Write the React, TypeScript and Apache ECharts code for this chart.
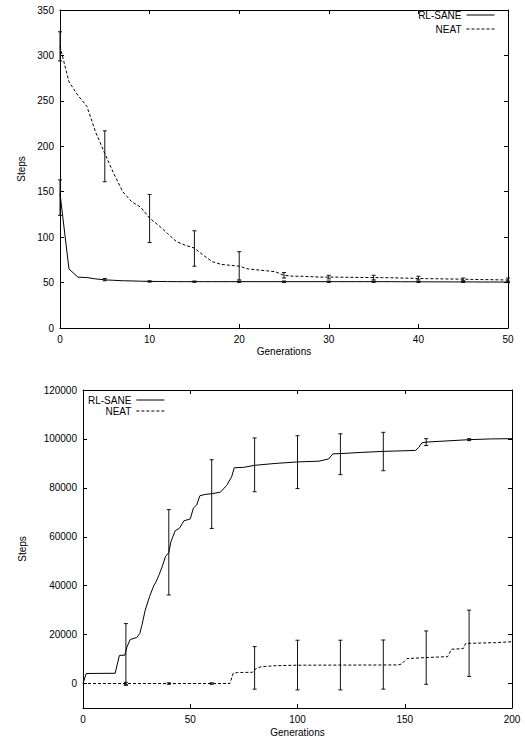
import React, { useEffect, useRef } from "react";
import * as echarts from "echarts";

// ---------- Top chart data ----------
const topGenerations = [
  0, 1, 2, 3, 4, 5, 6, 7, 8, 9, 10, 11, 12, 13, 14, 15, 16, 17, 18, 19, 20, 21, 22, 23, 24, 25,
  26, 27, 28, 29, 30, 31, 32, 33, 34, 35, 36, 37, 38, 39, 40, 41, 42, 43, 44, 45, 46, 47, 48, 49, 50,
];
const topRlSane = [
  148, 65, 56, 55.5, 54, 53, 52.5, 52, 51.8, 51.5, 51.3, 51.2, 51.1, 51, 51, 51, 51, 51, 51, 51, 51,
  51, 51, 51, 51, 51, 51, 51, 51, 51, 51, 51, 51, 51, 51, 51, 51, 51, 50.9, 50.9, 50.9, 50.8, 50.8,
  50.8, 50.7, 50.7, 50.7, 50.6, 50.6, 50.6, 50.5,
];
const topNeat = [
  310, 271, 256, 244, 215, 192, 170, 150, 139, 133, 121, 113, 104, 95, 91, 88, 80, 73, 70, 69, 68,
  65, 64, 63, 62, 58, 57, 57, 56.5, 56, 56, 56, 55.8, 55.7, 55.6, 55.5, 55.4, 55.3, 55, 54.8, 54.5,
  54.3, 54.2, 54, 53.9, 53.7, 53.5, 53.3, 53.2, 53, 52.8,
];
const topErrGenerations = [0, 5, 10, 15, 20, 25, 30, 35, 40, 45, 50];
const topRlSaneLow = [124, 52, 50.5, 50.3, 50.2, 50.2, 50.2, 50.2, 50.1, 50.1, 50];
const topRlSaneHigh = [163, 54.5, 52, 51.7, 51.7, 51.7, 51.7, 51.7, 51.6, 51.5, 51.5];
const topNeatLow = [294, 161, 94, 68, 53, 55, 54, 53, 53, 52, 50];
const topNeatHigh = [326, 217, 147, 107, 84, 61, 58, 58, 57, 55, 55];

// ---------- Bottom chart data ----------
const bottomRlSaneGens = [
  0, 1.5, 15, 16, 17, 19.5, 20.5, 22, 25, 26.5, 27.5, 29, 31, 33, 34, 35.5, 37, 38.5, 40, 41, 43, 45,
  47, 50, 51.5, 53, 54.5, 57, 60, 64, 67, 69.3, 70.5, 75, 80, 90, 100, 110, 114.5, 116.5, 120, 130,
  140, 155, 156.5, 158, 160, 166, 180, 190, 200,
];
const bottomRlSaneSteps = [
  0, 4100, 4200, 8000, 11500, 11600, 15000, 18000, 18800, 20500, 24000, 30000, 35500, 40000, 41500,
  44500, 48000, 52000, 53500, 58000, 62500, 63500, 66500, 67300, 71800, 73000, 76800, 77300, 77600,
  78200, 81000, 84500, 88200, 88400, 89200, 90000, 90600, 90900, 91800, 93900, 94000, 94500, 94900,
  95300, 96500, 98400, 98700, 99000, 99700, 100000, 100100,
];
const bottomNeatGens = [
  0, 68.5, 70, 72, 79, 81, 83.5, 90, 100, 147, 148.5, 151, 159.5, 170, 171.8, 177.3, 178.4, 192, 200,
];
const bottomNeatSteps = [
  0, 0, 4200, 4500, 4600, 6400, 6900, 7300, 7500, 7600, 8000, 10200, 10600, 11000, 14000, 14300,
  16400, 16700, 17100,
];
const bottomErrGenerations = [20, 40, 60, 80, 100, 120, 140, 160, 180];
const bottomRlSaneLow = [-700, 36200, 63400, 78400, 79700, 85400, 87000, 97300, 99300];
const bottomRlSaneHigh = [24500, 71100, 91500, 100400, 101300, 102100, 102700, 100100, 100100];
const bottomNeatLow = [-500, -300, -300, -2300, -2600, -2600, -2300, -300, 2900];
const bottomNeatHigh = [500, 300, 300, 15100, 17700, 17700, 17800, 21500, 30000];

const bottomYTicks = [0, 20000, 40000, 60000, 80000, 100000, 120000];

const FONT = "'Liberation Sans', Arial, Helvetica, sans-serif";
const SERIES_NAMES = ["RL-SANE", "NEAT"];

const zip = (xs: number[], ys: number[]) => xs.map((x, i) => [x, ys[i]]);
const zip3 = (xs: number[], lo: number[], hi: number[]) => xs.map((x, i) => [x, lo[i], hi[i]]);

const labelStyle = { color: "#000", fontSize: 10, fontFamily: FONT };

function makeAxis(opts: any) {
  const { show, customTicks, ...rest } = opts;
  const axis: any = {
    type: "value",
    axisLine: { show: true, onZero: false, lineStyle: { color: "#000", width: 1 } },
    axisTick: { show: true, inside: true, length: 4, lineStyle: { color: "#000", width: 1 } },
    axisLabel: { show: show, margin: 6, formatter: (v: number) => String(v), ...labelStyle },
    splitLine: { show: false },
    nameTextStyle: labelStyle,
    ...rest,
  };
  if (customTicks) {
    axis.axisTick.customValues = customTicks;
    axis.axisLabel.customValues = customTicks;
  }
  return axis;
}

function errorSeries(name: string, xAxisIndex: number, yAxisIndex: number, data: number[][]) {
  return {
    type: "custom",
    name,
    xAxisIndex,
    yAxisIndex,
    silent: true,
    encode: { x: 0, y: [1, 2] },
    data,
    renderItem: (params: any, api: any) => {
      const x = api.value(0);
      const lo = api.coord([x, api.value(1)]);
      const hi = api.coord([x, api.value(2)]);
      const w = 2;
      const st = { stroke: "#111", lineWidth: 1 };
      return {
        type: "group",
        children: [
          { type: "line", shape: { x1: lo[0], y1: lo[1], x2: hi[0], y2: hi[1] }, style: st },
          { type: "line", shape: { x1: lo[0] - w, y1: lo[1], x2: lo[0] + w, y2: lo[1] }, style: st },
          { type: "line", shape: { x1: hi[0] - w, y1: hi[1], x2: hi[0] + w, y2: hi[1] }, style: st },
        ],
      };
    },
  };
}

function lineSeries(name: string, xAxisIndex: number, yAxisIndex: number, data: number[][], dashed: boolean) {
  return {
    type: "line",
    name,
    xAxisIndex,
    yAxisIndex,
    data,
    symbol: "none",
    showSymbol: false,
    lineStyle: { color: "#000", width: 1, type: dashed ? [3, 2] : "solid" },
    itemStyle: { color: "#000" },
  };
}

const legendBase = {
  data: SERIES_NAMES,
  orient: "vertical",
  align: "right",
  padding: 0,
  itemWidth: 28,
  itemHeight: 10,
  selectedMode: false,
  textStyle: labelStyle,
  itemStyle: { opacity: 0 },
  lineStyle: { width: 1 },
};

export default function App() {
  const ref = useRef<HTMLDivElement>(null);

  useEffect(() => {
    document.body.style.margin = "0";
    if (!ref.current) return;
    const chart = echarts.init(ref.current, undefined, { renderer: "svg" });

    const option: any = {
      animation: false,
      backgroundColor: "#fff",
      grid: [
        { left: 60, top: 10, width: 448, height: 318 },
        { left: 83, top: 390, width: 429, height: 318 },
      ],
      legend: [
        { ...legendBase, right: 30, top: 10, itemGap: 4 },
        { ...legendBase, left: 88, top: 395, itemGap: 1 },
      ],
      xAxis: [
        makeAxis({
          gridIndex: 0, min: 0, max: 50, interval: 10, position: "bottom", show: true,
          name: "Generations", nameLocation: "middle", nameGap: 18,
        }),
        makeAxis({ gridIndex: 0, min: 0, max: 50, interval: 10, position: "top", show: false }),
        makeAxis({
          gridIndex: 1, min: 0, max: 200, interval: 50, position: "bottom", show: true,
          name: "Generations", nameLocation: "middle", nameGap: 19,
        }),
        makeAxis({ gridIndex: 1, min: 0, max: 200, interval: 50, position: "top", show: false }),
      ],
      yAxis: [
        makeAxis({
          gridIndex: 0, min: 0, max: 350, interval: 50, position: "left", show: true,
          name: "Steps", nameLocation: "middle", nameGap: 34,
        }),
        makeAxis({ gridIndex: 0, min: 0, max: 350, interval: 50, position: "right", show: false }),
        makeAxis({
          gridIndex: 1, min: -10000, max: 120000, interval: 10000, position: "left", show: true,
          customTicks: bottomYTicks,
          name: "Steps", nameLocation: "middle", nameGap: 56,
        }),
        makeAxis({
          gridIndex: 1, min: -10000, max: 120000, interval: 10000, position: "right", show: false,
          customTicks: bottomYTicks,
        }),
      ],
      series: [
        lineSeries("RL-SANE", 0, 0, zip(topGenerations, topRlSane), false),
        lineSeries("NEAT", 0, 0, zip(topGenerations, topNeat), true),
        errorSeries("RL-SANE error", 0, 0, zip3(topErrGenerations, topRlSaneLow, topRlSaneHigh)),
        errorSeries("NEAT error", 0, 0, zip3(topErrGenerations, topNeatLow, topNeatHigh)),
        lineSeries("RL-SANE", 2, 2, zip(bottomRlSaneGens, bottomRlSaneSteps), false),
        lineSeries("NEAT", 2, 2, zip(bottomNeatGens, bottomNeatSteps), true),
        errorSeries("RL-SANE error", 2, 2, zip3(bottomErrGenerations, bottomRlSaneLow, bottomRlSaneHigh)),
        errorSeries("NEAT error", 2, 2, zip3(bottomErrGenerations, bottomNeatLow, bottomNeatHigh)),
      ],
    };

    chart.setOption(option);
    return () => {
      chart.dispose();
    };
  }, []);

  return <div ref={ref} style={{ width: 525, height: 742 }} />;
}
